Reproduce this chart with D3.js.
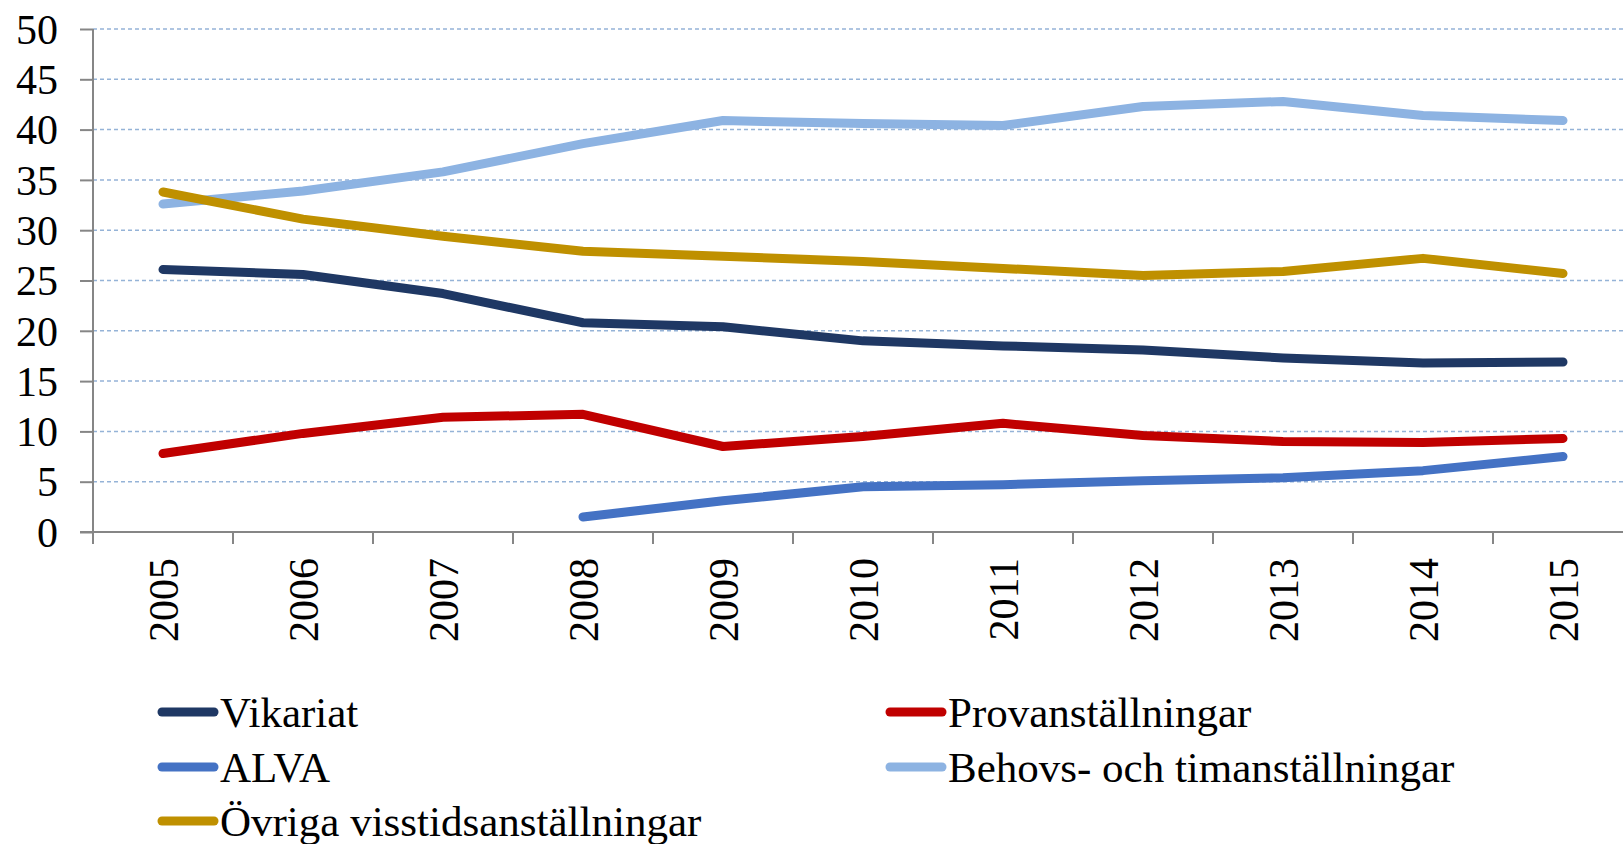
<!DOCTYPE html>
<html>
<head>
<meta charset="utf-8">
<script src="https://cdn.jsdelivr.net/npm/d3@7"></script>
<style>
html,body{margin:0;padding:0;background:#fff;}
svg{display:block;}
</style>
</head>
<body>
<svg id="chart" width="1623" height="844" font-family="Liberation Serif"></svg>
<script>
const years = ["2005","2006","2007","2008","2009","2010","2011","2012","2013","2014","2015"];
const yTicks = [0,5,10,15,20,25,30,35,40,45,50];

const vikariat = [26.1,25.6,23.7,20.8,20.4,19.0,18.5,18.1,17.3,16.8,16.9];
const provanstallningar = [7.8,9.8,11.4,11.7,8.5,9.5,10.8,9.6,9.0,8.9,9.3];
const alva = [null,null,null,1.5,3.1,4.5,4.7,5.1,5.4,6.1,7.5];
const behovs = [32.6,33.9,35.8,38.6,40.9,40.6,40.4,42.3,42.8,41.4,40.9];
const ovriga = [33.8,31.1,29.4,27.9,27.4,26.9,26.2,25.5,25.9,27.2,25.7];

const seriesNames = ["Vikariat","Provanställningar","ALVA","Behovs- och timanställningar","Övriga visstidsanställningar"];
const seriesValues = [vikariat, provanstallningar, alva, behovs, ovriga];
const seriesColors = ["#1f3864","#c00000","#4472c4","#8db3e2","#bf9000"];
const drawOrder = [3,4,0,1,2];

(function(){
const svg = d3.select("#chart");
const font = "Liberation Serif";
const mLeft = 93, mTop = 29, mBottom = 532;
const band = 140;
const mRight = mLeft + band * years.length;

const x = d3.scaleBand().domain(years).range([mLeft, mRight]).padding(0);
const y = d3.scaleLinear().domain([0,50]).range([mBottom, mTop]);

// gridlines
svg.append("g").selectAll("line").data(yTicks.filter(d => d > 0)).join("line")
  .attr("x1", mLeft).attr("x2", mRight)
  .attr("y1", d => y(d)).attr("y2", d => y(d))
  .attr("stroke", "#95b3d7").attr("stroke-width", 1.5)
  .attr("stroke-dasharray", "4,3");

// y axis
const yAxis = svg.append("g").attr("transform", `translate(${mLeft},0)`)
  .call(d3.axisLeft(y).tickValues(yTicks).tickSize(13).tickPadding(22).tickFormat(d3.format("d")));
yAxis.attr("font-family", font).attr("font-size", 42);
yAxis.select(".domain").attr("stroke", "#868686").attr("stroke-width", 2).attr("d", `M0,${mTop}V${mBottom}`);
yAxis.selectAll(".tick line").attr("stroke", "#868686").attr("stroke-width", 2);
yAxis.selectAll("text").attr("font-family", font).attr("font-size", 42).attr("fill", "#000").attr("dy", "0.34em");

// x axis
const xAxisG = svg.append("g").attr("transform", `translate(0,${mBottom})`);
xAxisG.append("line").attr("x1", mLeft - 13).attr("x2", mRight).attr("y1", 0).attr("y2", 0)
  .attr("stroke", "#868686").attr("stroke-width", 2);
const boundaries = years.map(d => x(d)).concat([mRight]);
xAxisG.selectAll("line.tk").data(boundaries).join("line").attr("class","tk")
  .attr("x1", d => d).attr("x2", d => d).attr("y1", 0).attr("y2", 12)
  .attr("stroke", "#868686").attr("stroke-width", 2);
xAxisG.selectAll("text").data(years).join("text")
  .attr("transform", d => `translate(${x(d) + x.bandwidth()/2 + 15},${26}) rotate(-90)`)
  .attr("text-anchor", "end")
  .attr("font-family", font).attr("font-size", 42).attr("fill", "#000")
  .text(d => d);

// lines
const line = d3.line()
  .defined(d => d.v !== null)
  .x(d => x(d.year) + x.bandwidth()/2)
  .y(d => y(d.v));

drawOrder.forEach(i => {
  const data = years.map((yr, j) => ({year: yr, v: seriesValues[i][j]}));
  svg.append("path").datum(data)
    .attr("d", line)
    .attr("fill", "none")
    .attr("stroke", seriesColors[i])
    .attr("stroke-width", 9)
    .attr("stroke-linecap", "round")
    .attr("stroke-linejoin", "round");
});

// legend
const legendPos = [
  {x: 162, y: 712}, {x: 890, y: 712},
  {x: 162, y: 767}, {x: 890, y: 767},
  {x: 162, y: 821}
];
const legend = svg.append("g");
seriesNames.forEach((name, i) => {
  const p = legendPos[i];
  const g = legend.append("g").attr("transform", `translate(${p.x},${p.y})`);
  g.append("line").attr("x1", 0).attr("x2", 52).attr("y1", 0).attr("y2", 0)
    .attr("stroke", seriesColors[i]).attr("stroke-width", 9).attr("stroke-linecap", "round");
  g.append("text").attr("x", 58).attr("y", 0).attr("dy", "0.34em")
    .attr("font-family", font).attr("font-size", 43).attr("fill", "#000")
    .text(name);
});
})();
</script>
</body>
</html>
